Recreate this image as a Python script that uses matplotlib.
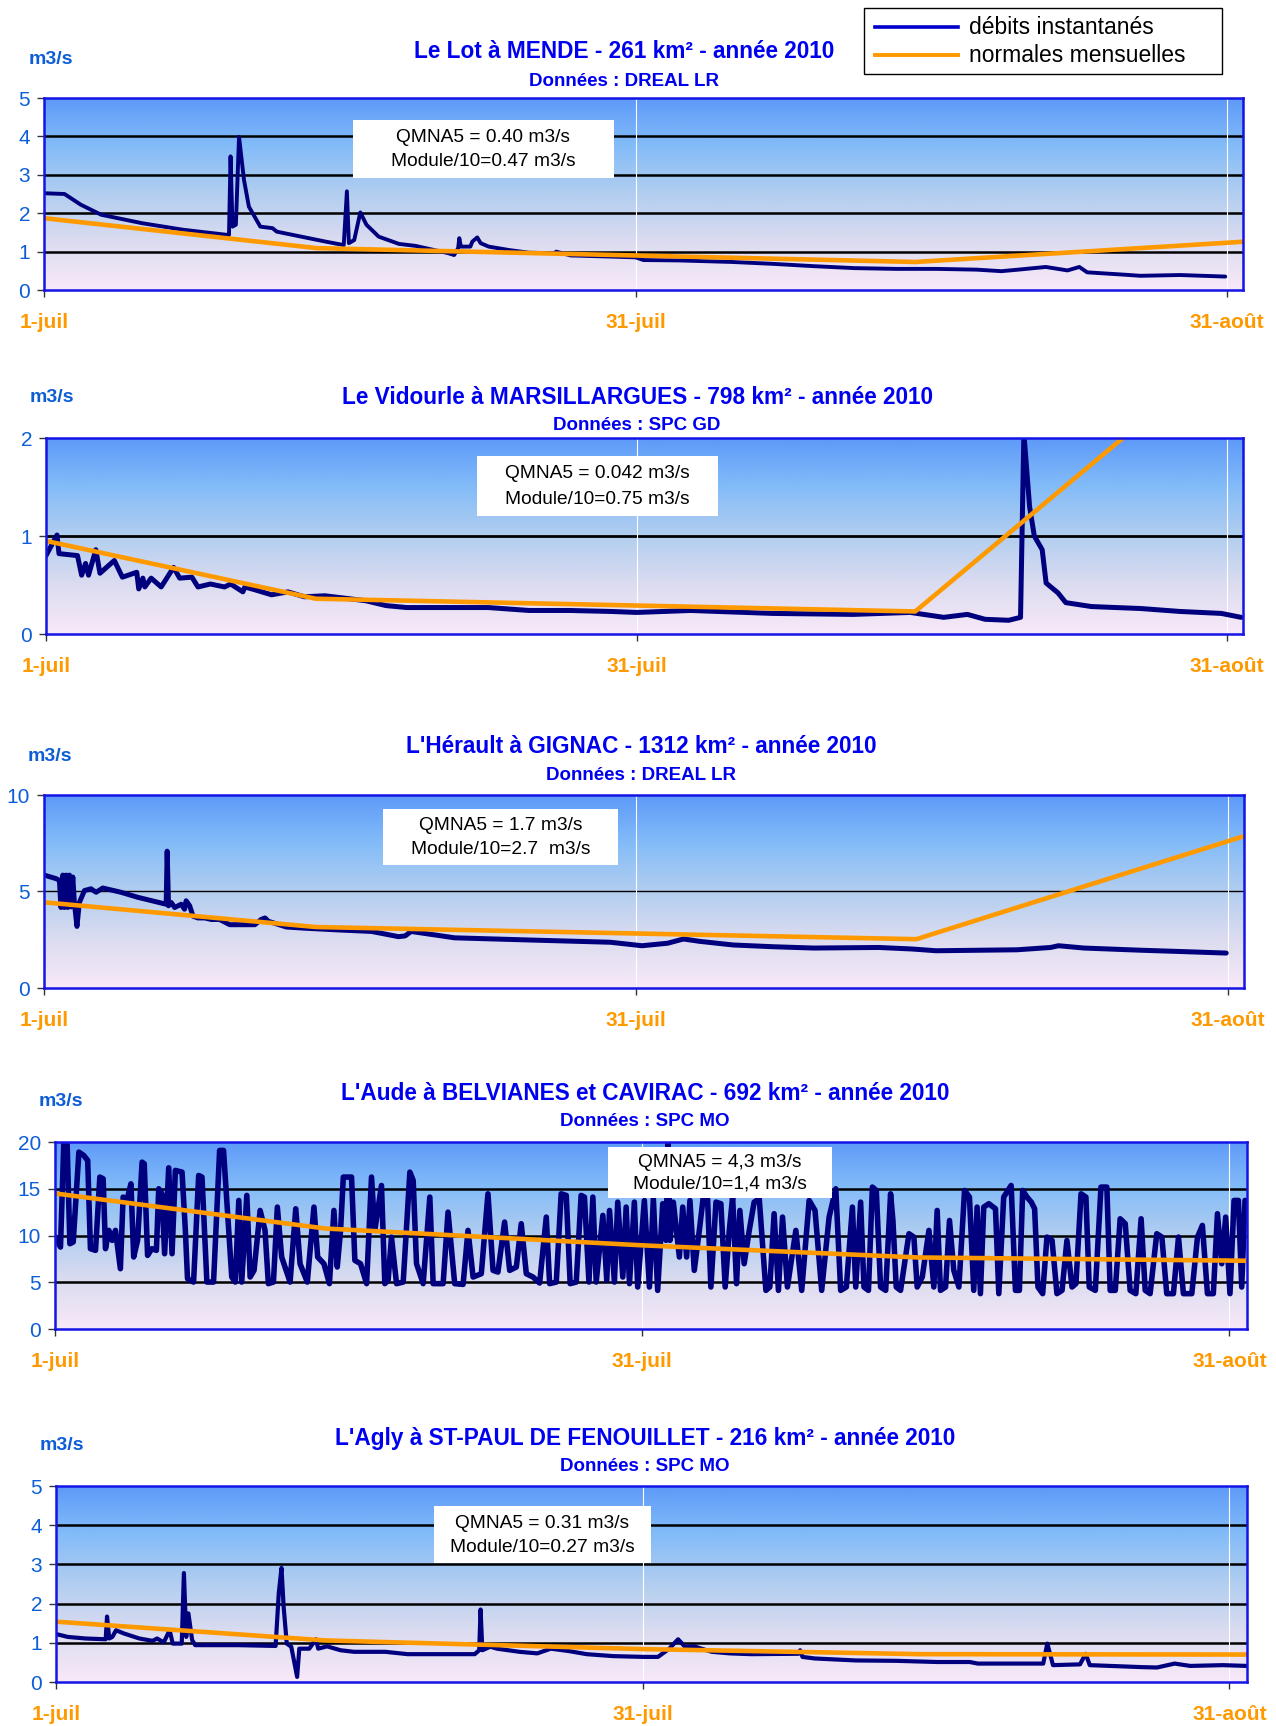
import numpy as np
import matplotlib
matplotlib.use("Agg")
import matplotlib.pyplot as plt
from matplotlib.colors import LinearSegmentedColormap
from matplotlib.patches import Rectangle
from matplotlib.lines import Line2D

plt.rcParams['font.family'] = ['Liberation Sans', 'DejaVu Sans']

# day 0 = 1-juil, 30 = 31-juil, 60 = 31-août
xtick_pos = [0, 30, 60]
xtick_labels = ['1-juil', '31-juil', '31-août']

# ---------------- Le Lot à MENDE
lot_pts = [(0, 2.52), (1.04, 2.50), (1.87, 2.22), (2.9, 1.96), (4.97, 1.74), (7.04, 1.57),
           (9.38, 1.43), (9.46, 3.48), (9.56, 1.65), (9.73, 1.70), (9.89, 3.99), (10.14, 2.87),
           (10.39, 2.17), (10.97, 1.65), (11.59, 1.61), (11.8, 1.52), (14.28, 1.26), (15.2, 1.17),
           (15.36, 2.57), (15.46, 1.22), (15.73, 1.30), (16.04, 2.02), (16.35, 1.70), (16.97, 1.39),
           (18.0, 1.20), (18.83, 1.15), (20.49, 0.96), (20.8, 0.91), (21.0, 1.09), (21.06, 1.35),
           (21.14, 1.13), (21.62, 1.13), (21.72, 1.26), (21.97, 1.37), (22.14, 1.22), (22.55, 1.13),
           (23.59, 1.04), (24.62, 0.97), (25.9, 0.96), (25.97, 1.00), (26.7, 0.90), (28.76, 0.87),
           (30.0, 0.85), (30.4, 0.78), (32.2, 0.77), (34.9, 0.73), (37.0, 0.68), (39.05, 0.62),
           (41.1, 0.57), (43.2, 0.55), (45.25, 0.55), (47.3, 0.53), (48.55, 0.49), (49.4, 0.53),
           (50.8, 0.60), (51.9, 0.51), (52.5, 0.60), (52.9, 0.46), (54.75, 0.40), (55.6, 0.37),
           (57.6, 0.39), (59.9, 0.35)]
lot_norm_days = [0, 13.85, 44.2, 60.9]
lot_norm = [1.87, 1.09, 0.73, 1.26]

# ---------------- Le Vidourle à MARSILLARGUES
vid_pts = [(0, 0.80), (0.56, 1.01), (0.66, 0.82), (1.6, 0.80), (1.81, 0.60), (2.01, 0.72),
           (2.16, 0.60), (2.53, 0.86), (2.74, 0.62), (3.47, 0.75), (3.88, 0.58), (4.61, 0.63),
           (4.71, 0.46), (4.92, 0.57), (5.02, 0.48), (5.34, 0.57), (5.85, 0.48), (6.48, 0.68),
           (6.79, 0.57), (7.41, 0.58), (7.72, 0.48), (8.35, 0.51), (9.07, 0.48), (9.38, 0.51),
           (10.0, 0.43), (10.1, 0.48), (10.63, 0.45), (11.46, 0.40), (12.29, 0.43), (13.12, 0.38),
           (14.16, 0.39), (15.4, 0.36), (16.23, 0.34), (17.27, 0.29), (18.31, 0.27), (20.39, 0.27),
           (22.46, 0.27), (24.54, 0.24), (26.6, 0.24), (28.7, 0.23), (30.0, 0.22), (32.75, 0.24),
           (36.9, 0.21), (41.0, 0.20), (43.9, 0.22), (45.6, 0.17), (46.8, 0.20), (47.7, 0.15),
           (48.9, 0.14), (49.5, 0.17), (49.67, 2.05), (49.96, 1.30), (50.2, 1.00), (50.6, 0.86),
           (50.8, 0.52), (51.4, 0.42), (51.8, 0.32), (53.1, 0.28), (55.6, 0.26), (57.6, 0.23),
           (59.7, 0.21), (60.7, 0.17)]
vid_norm_days = [0, 13.7, 44.15, 54.7]
vid_norm = [0.95, 0.36, 0.23, 2.0]

# ---------------- L'Hérault à GIGNAC
her_pts = [(0.01, 5.85), (0.6, 5.67), (0.78, 5.58), (0.86, 4.17), (0.95, 5.85), (1.03, 4.17),
           (1.12, 5.85), (1.2, 4.17), (1.29, 5.85), (1.37, 4.2), (1.46, 5.75), (1.54, 4.4),
           (1.67, 3.19), (1.79, 4.43), (2.05, 5.05), (2.38, 5.14), (2.64, 4.96), (2.98, 5.18),
           (3.9, 4.96), (4.75, 4.70), (6.19, 4.34), (6.24, 7.09), (6.31, 4.26), (6.45, 4.43),
           (6.62, 4.17), (6.95, 4.34), (7.12, 4.08), (7.2, 4.52), (7.38, 4.26), (7.55, 3.72),
           (7.8, 3.63), (8.14, 3.63), (8.48, 3.55), (8.9, 3.55), (9.41, 3.28), (10.68, 3.28),
           (11.0, 3.55), (11.2, 3.63), (11.36, 3.46), (12.28, 3.16), (13.2, 3.10), (14.9, 3.01),
           (16.6, 2.93), (17.96, 2.66), (18.3, 2.70), (18.6, 2.93), (19.2, 2.84), (20.0, 2.72),
           (20.8, 2.60), (24.5, 2.49), (28.7, 2.37), (30.3, 2.19), (31.6, 2.32), (32.4, 2.54),
           (33.2, 2.42), (34.9, 2.23), (36.9, 2.14), (39.0, 2.07), (42.3, 2.10), (44.0, 2.02),
           (45.2, 1.93), (49.3, 1.98), (51.0, 2.10), (51.4, 2.19), (52.7, 2.07), (55.5, 1.96),
           (57.6, 1.89), (59.9, 1.81)]
her_norm_days = [0, 13.77, 44.2, 60.9]
her_norm = [4.44, 3.16, 2.53, 7.9]

# ---------------- L'Aude à BELVIANES et CAVIRAC
aude_pts = [(0.03, 9.83), (0.28, 8.76), (0.45, 19.88), (0.62, 19.81), (0.76, 9.12), (0.93, 9.30),
            (1.22, 18.92), (1.47, 18.56), (1.67, 18.03), (1.81, 8.59), (2.07, 8.41), (2.29, 16.25),
            (2.46, 16.07), (2.58, 8.59), (2.75, 10.55), (2.92, 9.48), (3.09, 10.55), (3.34, 6.45),
            (3.48, 14.11), (3.65, 13.57), (3.88, 15.53), (4.02, 7.70), (4.22, 9.48), (4.45, 17.85),
            (4.56, 17.67), (4.73, 7.87), (4.95, 8.59), (5.18, 8.41), (5.30, 15.00), (5.46, 14.46),
            (5.60, 8.05), (5.81, 17.24), (5.98, 8.05), (6.15, 16.96), (6.49, 16.78), (6.66, 10.55),
            (6.77, 5.38), (7.08, 5.02), (7.34, 16.42), (7.51, 16.25), (7.76, 5.02), (8.10, 5.02),
            (8.41, 19.10), (8.61, 19.10), (9.03, 5.56), (9.21, 5.02), (9.39, 13.75), (9.54, 5.02),
            (9.80, 14.29), (9.97, 5.56), (10.17, 6.27), (10.48, 12.68), (10.73, 10.55), (10.90, 4.85),
            (11.16, 5.02), (11.36, 13.04), (11.58, 7.70), (12.01, 5.02), (12.30, 12.86), (12.52, 6.98),
            (12.89, 5.02), (13.23, 13.04), (13.42, 7.70), (13.74, 6.98), (14.02, 4.85), (14.25, 12.68),
            (14.42, 6.63), (14.59, 10.55), (14.73, 16.25), (15.15, 16.25), (15.32, 7.34), (15.61, 6.98),
            (15.92, 4.85), (16.17, 16.25), (16.34, 10.55), (16.68, 15.35), (16.85, 4.85), (17.02, 5.20),
            (17.19, 9.83), (17.45, 4.85), (17.79, 5.02), (18.13, 16.78), (18.30, 15.89), (18.47, 6.98),
            (18.81, 4.85), (19.15, 14.11), (19.32, 4.85), (19.83, 4.85), (20.08, 12.50), (20.42, 4.85),
            (20.85, 4.77), (21.10, 10.55), (21.36, 5.56), (21.78, 5.91), (22.12, 14.46), (22.38, 6.27),
            (22.63, 6.09), (22.97, 11.44), (23.23, 6.27), (23.57, 6.63), (23.82, 11.26), (24.08, 5.91),
            (24.42, 5.56), (24.76, 4.92), (25.10, 11.97), (25.27, 4.85), (25.61, 5.02), (25.86, 14.46),
            (26.12, 14.29), (26.32, 4.85), (26.63, 5.02), (26.88, 14.29), (27.05, 14.11), (27.28, 5.02),
            (27.48, 14.11), (27.65, 5.02), (27.99, 12.15), (28.19, 5.20), (28.33, 12.68), (28.58, 5.02),
            (28.75, 13.57), (29.01, 5.56), (29.18, 13.04), (29.35, 4.85), (29.60, 13.57), (29.77, 4.49),
            (30.11, 13.75), (30.37, 4.49), (30.57, 13.93), (30.79, 4.13), (31.05, 13.40), (31.22, 9.48),
            (31.32, 20.34), (31.42, 9.48), (31.59, 13.57), (31.90, 7.70), (32.07, 13.04), (32.27, 7.70),
            (32.44, 13.75), (32.66, 6.27), (32.92, 10.55), (33.12, 14.11), (33.34, 13.93), (33.51, 4.49),
            (33.77, 13.57), (34.02, 13.40), (34.24, 4.49), (34.45, 10.55), (34.62, 14.11), (34.82, 4.85),
            (34.99, 12.68), (35.21, 6.98), (35.47, 10.55), (35.72, 13.57), (35.98, 13.93), (36.32, 4.13),
            (36.52, 4.49), (36.74, 12.33), (36.96, 4.13), (37.17, 11.97), (37.42, 4.49), (37.85, 10.55),
            (38.15, 4.13), (38.53, 13.75), (38.83, 12.68), (39.17, 4.13), (39.55, 11.97), (39.89, 15.00),
            (40.14, 4.13), (40.43, 4.49), (40.74, 13.04), (40.91, 4.49), (41.16, 13.57), (41.33, 4.49),
            (41.56, 4.13), (41.76, 15.18), (41.96, 14.82), (42.18, 4.49), (42.44, 4.13), (42.69, 14.46),
            (42.81, 11.61), (42.98, 4.49), (43.20, 4.13), (43.63, 10.19), (43.88, 9.83), (44.05, 4.49),
            (44.31, 5.56), (44.65, 10.55), (44.90, 4.49), (45.07, 12.68), (45.24, 4.13), (45.50, 4.49),
            (45.70, 11.61), (45.92, 6.27), (46.18, 4.49), (46.47, 14.82), (46.72, 14.11), (46.94, 4.13),
            (47.11, 13.04), (47.28, 3.78), (47.45, 13.04), (47.71, 13.40), (48.05, 12.86), (48.22, 3.78),
            (48.47, 14.11), (48.85, 15.35), (49.07, 4.13), (49.27, 4.13), (49.44, 14.82), (49.66, 14.11),
            (49.88, 13.57), (50.05, 12.86), (50.22, 4.49), (50.46, 3.78), (50.68, 9.83), (50.94, 9.48),
            (51.19, 3.78), (51.45, 4.13), (51.70, 9.48), (51.96, 4.49), (52.16, 4.85), (52.42, 14.46),
            (52.67, 14.11), (52.84, 4.49), (53.15, 4.13), (53.44, 15.18), (53.74, 15.18), (53.91, 4.13),
            (54.17, 4.13), (54.42, 11.79), (54.68, 11.26), (54.93, 4.13), (55.22, 3.78), (55.49, 11.79),
            (55.70, 4.13), (55.95, 3.78), (56.29, 10.19), (56.55, 9.83), (56.80, 3.78), (57.14, 3.78),
            (57.40, 9.83), (57.65, 3.78), (58.08, 3.78), (58.37, 9.83), (58.62, 11.08), (58.88, 3.78),
            (59.18, 3.78), (59.39, 12.33), (59.61, 6.98), (59.81, 11.97), (60.03, 3.78), (60.24, 13.75),
            (60.46, 13.75), (60.63, 4.49), (60.80, 13.75)]
aude_norm_days = [0, 13.8, 30, 44.1, 60.9]
aude_norm = [14.5, 10.75, 8.95, 7.65, 7.3]

# ---------------- L'Agly à ST-PAUL DE FENOUILLET
agly_pts = [(0.03, 1.22), (0.6, 1.15), (1.51, 1.11), (2.54, 1.09), (2.61, 1.67), (2.72, 1.11),
            (2.88, 1.15), (3.07, 1.32), (3.46, 1.24), (4.26, 1.11), (4.94, 1.05), (5.17, 1.11),
            (5.51, 1.01), (5.81, 1.32), (5.97, 0.98), (6.43, 0.98), (6.54, 2.78), (6.66, 1.15),
            (6.77, 1.75), (6.96, 1.07), (7.12, 0.94), (7.92, 0.94), (9.29, 0.94), (11.23, 0.92),
            (11.39, 2.26), (11.53, 2.91), (11.64, 1.92), (11.8, 0.98), (12.03, 0.90), (12.33, 0.13),
            (12.44, 0.85), (12.95, 0.85), (13.29, 1.09), (13.41, 0.85), (13.86, 0.91), (14.55, 0.81),
            (15.24, 0.77), (16.84, 0.77), (17.98, 0.71), (21.41, 0.71), (21.64, 0.81), (21.71, 1.85),
            (21.8, 0.81), (22.21, 0.90), (22.55, 0.85), (23.7, 0.77), (24.61, 0.73), (25.3, 0.85),
            (26.21, 0.79), (27.13, 0.71), (28.5, 0.66), (30.1, 0.64), (30.78, 0.64), (31.36, 0.85),
            (31.81, 1.09), (32.16, 0.90), (32.62, 0.91), (33.53, 0.77), (34.45, 0.73), (35.54, 0.71),
            (37.96, 0.72), (38.05, 0.81), (38.17, 0.64), (38.8, 0.60), (40.9, 0.55), (42.97, 0.54),
            (45.06, 0.51), (46.72, 0.51), (47.14, 0.47), (50.48, 0.47), (50.69, 0.98), (50.98, 0.43),
            (52.36, 0.45), (52.65, 0.72), (52.86, 0.43), (55.49, 0.38), (56.3, 0.37), (57.2, 0.47),
            (58.0, 0.41), (59.66, 0.43), (60.9, 0.41)]
agly_norm_days = [0, 13.8, 30, 44.2, 60.9]
agly_norm = [1.54, 1.06, 0.84, 0.71, 0.70]

titles = ["Le Lot à MENDE - 261 km² - année 2010",
          "Le Vidourle à MARSILLARGUES - 798 km² - année 2010",
          "L'Hérault à GIGNAC - 1312 km² - année 2010",
          "L'Aude à BELVIANES et CAVIRAC - 692 km² - année 2010",
          "L'Agly à ST-PAUL DE FENOUILLET - 216 km² - année 2010"]
sources = ["Données : DREAL LR", "Données : SPC GD", "Données : DREAL LR",
           "Données : SPC MO", "Données : SPC MO"]
box_texts = [("QMNA5 = 0.40 m3/s", "Module/10=0.47 m3/s"),
             ("QMNA5 = 0.042 m3/s", "Module/10=0.75 m3/s"),
             ("QMNA5 = 1.7 m3/s", "Module/10=2.7  m3/s"),
             ("QMNA5 = 4,3 m3/s", "Module/10=1,4 m3/s"),
             ("QMNA5 = 0.31 m3/s", "Module/10=0.27 m3/s")]
yticks = [[0, 1, 2, 3, 4, 5], [0, 1, 2], [0, 5, 10], [0, 5, 10, 15, 20], [0, 1, 2, 3, 4, 5]]

# layout in pixels (left, right, top, bottom), title y, source y, unit pos, box
frames = [(44, 1243, 98, 290), (46, 1243, 438, 634), (44, 1244, 795, 988),
          (55, 1247, 1142, 1329), (56, 1247, 1486, 1682)]
title_pos = [(624, 52, 82), (637, 398, 426), (641, 746, 775), (645, 1093, 1122), (645, 1438, 1466)]
unit_pos = [(51, 60), (52, 397), (50, 756), (61, 1102), (62, 1446)]
boxes = [(353, 614, 120, 178), (477, 718, 456, 516), (383, 618, 809, 865),
         (608, 832, 1147, 1198), (434, 651, 1506, 1563)]

W, H = 1276, 1726
def fx(x):
    return x / W
def fy(y):
    return 1 - y / H

NAVY = '#00007f'
ORANGE = '#ff9900'
TITLE_BLUE = '#0000f0'
AXIS_BLUE = '#0d5ed6'

grad = LinearSegmentedColormap.from_list(
    'excel', [(0, '#f8e9f8'), (0.25, '#dcdcf0'), (0.5, '#b2cef0'), (0.75, '#84bcf8'), (1, '#5d9af8')])

fig = plt.figure(figsize=(W / 100, H / 100), dpi=100)

series = [(lot_pts, lot_norm_days, lot_norm), (vid_pts, vid_norm_days, vid_norm),
          (her_pts, her_norm_days, her_norm), (aude_pts, aude_norm_days, aude_norm),
          (agly_pts, agly_norm_days, agly_norm)]
line_w = [2.8, 3.6, 3.6, 4.0, 3.0]
grid_w = [1.8, 2.0, 1.0, 1.8, 1.8]

for i, (pts, nd, nv) in enumerate(series):
    l, r, t, b = frames[i]
    ax = fig.add_axes([fx(l), fy(b), (r - l) / W, (b - t) / H])
    ymax = yticks[i][-1]
    xmax = 60.8 if i < 3 else 60.9
    ax.imshow(np.linspace(0, 1, 256).reshape(-1, 1), cmap=grad, origin='lower',
              extent=[0, xmax, 0, ymax], aspect='auto', zorder=0)
    ax.set_xlim(0, xmax)
    ax.set_ylim(0, ymax)
    ax.set_yticks(yticks[i])
    ax.set_xticks(xtick_pos)
    ax.set_xticklabels(xtick_labels, color=ORANGE, fontweight='bold', fontsize=15)
    ax.tick_params(axis='x', length=5, width=1, color='#333333', pad=11.5)
    ax.tick_params(axis='y', length=5, width=1, color='#333333', pad=5,
                   labelcolor=AXIS_BLUE, labelsize=15)
    for yv in yticks[i][1:-1]:
        ax.axhline(yv, color='black', lw=grid_w[i], zorder=1)
    for xv in xtick_pos[1:]:
        ax.axvline(xv, color='white', lw=0.8, zorder=1)
    d = [p[0] for p in pts]
    q = [p[1] for p in pts]
    ax.plot(d, q, color=NAVY, lw=line_w[i], solid_joinstyle='round',
            solid_capstyle='round', zorder=3)
    ax.plot(nd, nv, color=ORANGE, lw=3.3, zorder=4)
    for s in ax.spines.values():
        s.set_color('#1414e6')
        s.set_linewidth(1.8)
        s.set_zorder(5)

    cx, ty, sy = title_pos[i]
    fig.text(fx(cx), fy(ty), titles[i], ha='center', va='center', color=TITLE_BLUE,
             fontsize=16.3, fontweight='bold')
    fig.text(fx(cx), fy(sy), sources[i], ha='center', va='center', color=TITLE_BLUE,
             fontsize=13.5, fontweight='bold')
    ux, uy = unit_pos[i]
    fig.text(fx(ux), fy(uy), 'm3/s', ha='center', va='center', color=AXIS_BLUE,
             fontsize=14, fontweight='bold')

    bl, br, bt, bb = boxes[i]
    fig.add_artist(Rectangle((fx(bl), fy(bb)), (br - bl) / W, (bb - bt) / H,
                             transform=fig.transFigure, facecolor='white', edgecolor='none',
                             zorder=10))
    bc = (bl + br) / 2
    h = bb - bt
    fig.text(fx(bc), fy(bt + h * 0.3), box_texts[i][0], ha='center', va='center',
             fontsize=13.8, color='black', zorder=11)
    fig.text(fx(bc), fy(bt + h * 0.72), box_texts[i][1], ha='center', va='center',
             fontsize=13.8, color='black', zorder=11)

# legend box
fig.add_artist(Rectangle((fx(864), fy(74)), (1222 - 864) / W, (74 - 8) / H,
                         transform=fig.transFigure, facecolor='white', edgecolor='black',
                         lw=1, zorder=10))
fig.add_artist(Line2D([fx(875), fx(958)], [fy(27), fy(27)], transform=fig.transFigure,
                      color='#0000cc', lw=2.6, zorder=11))
fig.add_artist(Line2D([fx(875), fx(958)], [fy(55), fy(55)], transform=fig.transFigure,
                      color=ORANGE, lw=2.8, zorder=11))
fig.text(fx(969), fy(27), 'débits instantanés', ha='left', va='center', fontsize=16.5, zorder=11)
fig.text(fx(969), fy(55), 'normales mensuelles', ha='left', va='center', fontsize=16.5, zorder=11)

fig.savefig('out.png', dpi=100)
